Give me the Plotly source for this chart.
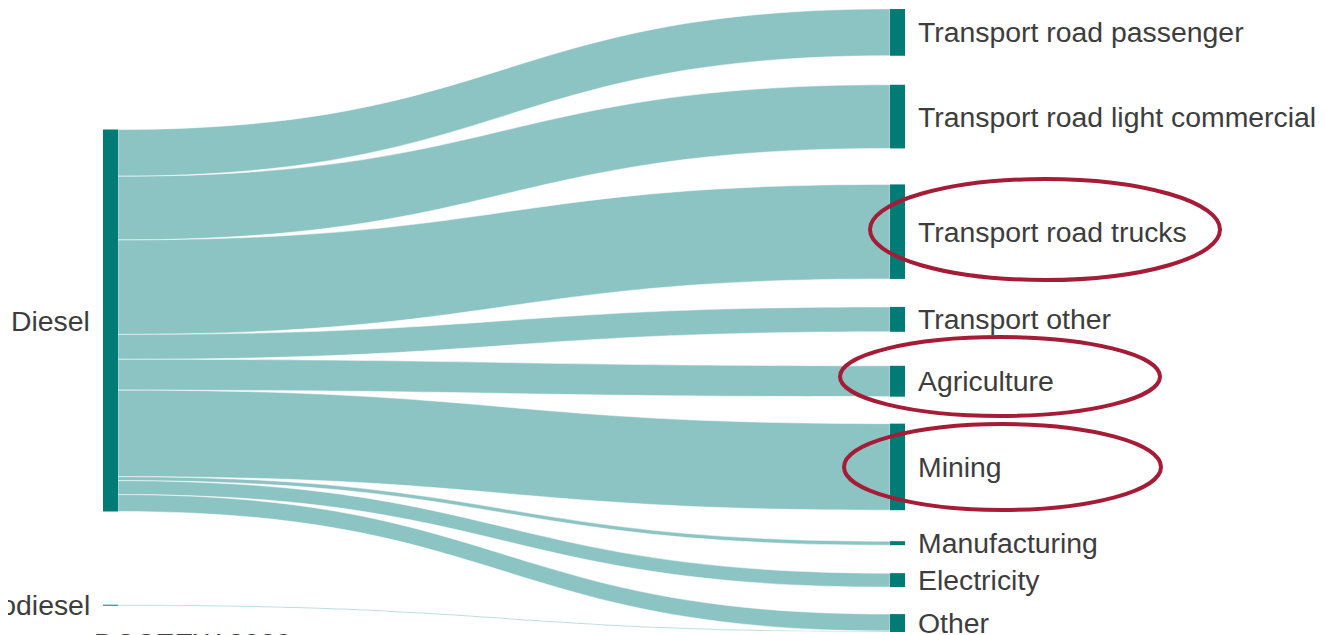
import plotly.graph_objects as go

# ---------------- data ----------------
sources = ["Diesel", "Biodiesel"]
targets = ["Transport road passenger", "Transport road light commercial",
           "Transport road trucks", "Transport other", "Agriculture", "Mining",
           "Manufacturing", "Electricity", "Other"]
diesel_values = [47, 64, 95, 25, 31, 87, 4, 14, 17]
biodiesel_targets = ["Other"]
biodiesel_values = [1]
source_note = "DCCEEW 2020"

# ---------------- layout constants ----------------
OFF = 8                      # default page body margin
W, H = 1325, 635
X0, X1 = 103, 905            # diagram span on the page (px)
Y0, Y1 = 9, 632
ML = X0 - OFF
MT = Y0 - OFF
DW = X1 - X0
DH = Y1 - Y0
MR = W - ML - DW
MB = H - MT - DH
PAD = 30
GAPS = [29, 36, 28, 34, 27, 31, 28, 27]   # spacing between right-hand nodes (px)
NODE_W = 15
BIO_CENTER = 0.957
NODE_COLOR = "#007b76"
LINK_COLOR = "rgba(140,196,195,1)"
TEXT_COLOR = "#3d3d3d"
FONT = "Liberation Sans, Arial, sans-serif"
FS = 28.4
RED = "#a51c36"

labels = sources + targets
idx = {n: i for i, n in enumerate(labels)}

src, tgt, val = [], [], []
for t, v in zip(targets, diesel_values):
    src.append(idx["Diesel"]); tgt.append(idx[t]); val.append(v)
for t, v in zip(biodiesel_targets, biodiesel_values):
    src.append(idx["Biodiesel"]); tgt.append(idx[t]); val.append(v)

# node totals for the target column
tot = {t: 0 for t in targets}
for s, t, v in zip(src, tgt, val):
    tot[labels[t]] += v
col_sum = sum(tot.values())
ky = (DH - (len(targets) - 1) * PAD) / col_sum

ycent = {}
y = 0.0
for i, t in enumerate(targets):
    h = tot[t] * ky
    ycent[t] = (y + h / 2) / DH
    y += h + (GAPS[i] if i < len(GAPS) else 0)
ycent["Diesel"] = 0.5
ycent["Biodiesel"] = BIO_CENTER

xl = (NODE_W / 2) / DW
xr = 1 - (NODE_W / 2) / DW
node_x = [xl if n in sources else xr for n in labels]
node_y = [ycent[n] for n in labels]

fig = go.Figure(go.Sankey(
    arrangement="fixed",
    node=dict(label=labels, x=node_x, y=node_y, pad=PAD, thickness=NODE_W,
              color=NODE_COLOR, line=dict(width=0)),
    link=dict(source=src, target=tgt, value=val, color=LINK_COLOR,
              line=dict(color="white", width=0.5)),
    textfont=dict(color="rgba(0,0,0,0)", size=1),
))


def px_x(px):
    return (px - X0) / DW


def px_y(py):
    return 1 - (py - Y0) / DH


ann = []
for t in targets:
    ann.append(dict(x=1, y=1 - ycent[t], xref="paper", yref="paper", text=t,
                    xanchor="left", yanchor="middle", xshift=11, showarrow=False,
                    font=dict(family=FONT, size=FS, color=TEXT_COLOR)))
for s in sources:
    ann.append(dict(x=0, y=1 - ycent[s], xref="paper", yref="paper", text=s,
                    xanchor="right", yanchor="middle", xshift=-11, showarrow=False,
                    font=dict(family=FONT, size=FS, color=TEXT_COLOR)))
ann.append(dict(x=px_x(92), y=px_y(625), xref="paper", yref="paper",
                text=source_note, xanchor="left", yanchor="top", showarrow=False,
                font=dict(family=FONT, size=FS, color=TEXT_COLOR)))

shapes = []
for (a, b, c, d) in [(870, 179, 1220, 280), (840, 337, 1160, 416), (844, 424, 1161, 510)]:
    shapes.append(dict(type="circle", xref="paper", yref="paper",
                       x0=px_x(a), x1=px_x(c), y0=px_y(b), y1=px_y(d),
                       line=dict(color=RED, width=4), layer="above"))

fig.update_layout(width=W, height=H, margin=dict(l=ML, r=MR, t=MT, b=MB),
                  paper_bgcolor="white", plot_bgcolor="white",
                  annotations=ann, shapes=shapes,
                  font=dict(family=FONT, color=TEXT_COLOR))

fig.write_html("out.html")
